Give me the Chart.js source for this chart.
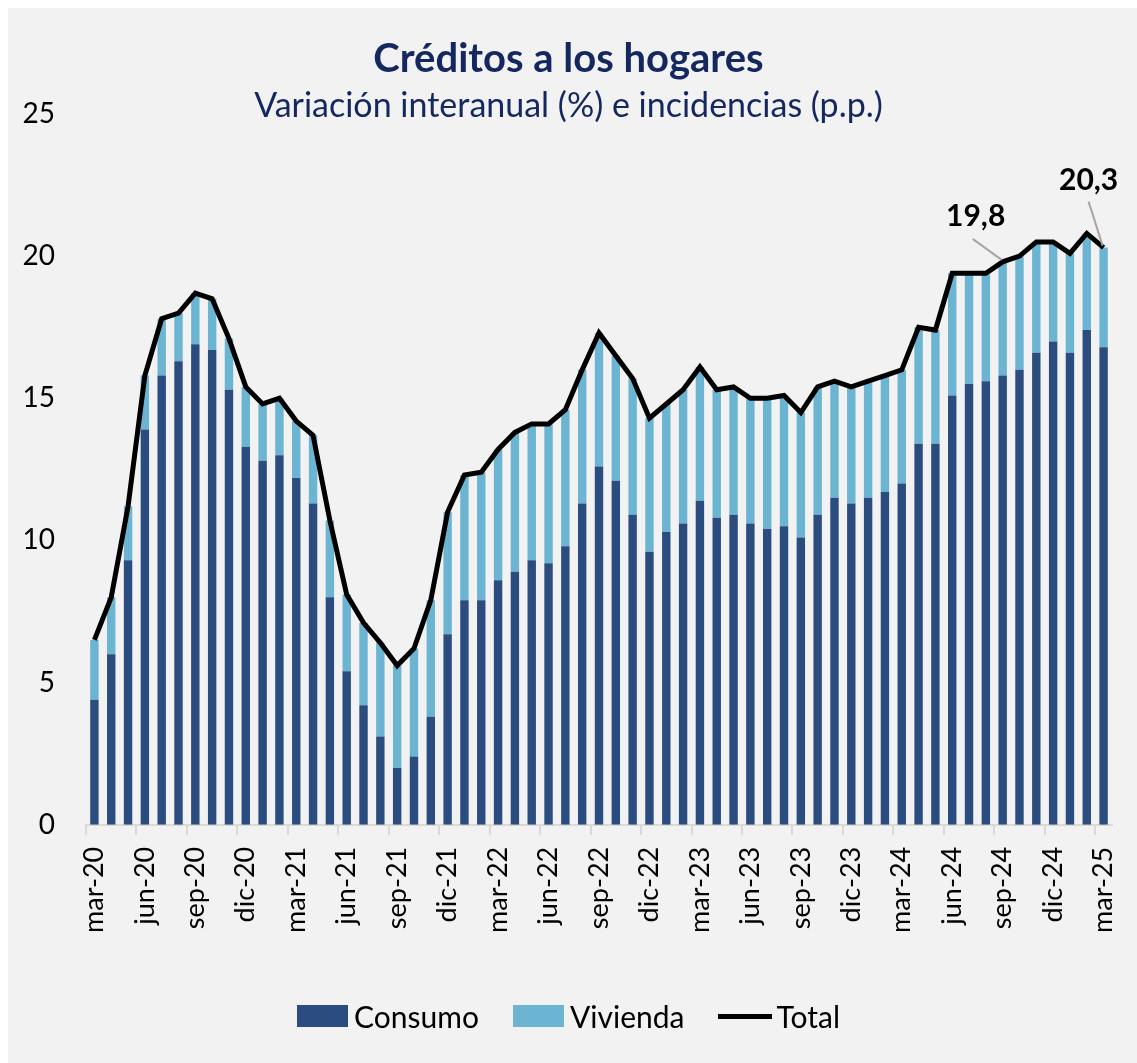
<!DOCTYPE html>
<html lang="es">

<head>
    <meta charset="UTF-8">
    <title>Créditos a los hogares</title>
    <style>
        body { margin: 0; background: #ffffff; }
        #wrap { position: absolute; left: 8px; top: 8px; width: 1129px; height: 1055px; background: #f2f2f2; }
        #box { position: absolute; left: -8px; top: -8px; width: 1137px; height: 1063px; }
        .ttl { position: absolute; left: 0; width: 1137px; text-align: center; color: #14275e; font-family: Lato, sans-serif; line-height: 1.2; }
        #t1 { top: 33px; font-size: 40px; font-weight: bold; }
        #t2 { top: 84px; font-size: 34px; }
        #legend { position: absolute; top: 998px; left: 0; width: 1137px; display: flex; justify-content: center; align-items: center;
                  font-family: Lato, sans-serif; font-size: 30px; color: #000; }
        .item { display: flex; align-items: center; margin: 0 17px; }
        .sw { width: 51px; height: 22px; margin-right: 6px; }
        .ln { width: 54px; height: 5px; background: #000; margin-right: 4px; }
    </style>
</head>

<body>
    <div id="wrap">
        <div id="box">
            <canvas id="myChart" width="1137" height="1063"></canvas>
            <div class="ttl" id="t1">Créditos a los hogares</div>
            <div class="ttl" id="t2">Variación interanual (%) e incidencias (p.p.)</div>
            <div id="legend">
                <div class="item"><div class="sw" style="background:#2b4c7e"></div>Consumo</div>
                <div class="item"><div class="sw" style="background:#6bb4d2"></div>Vivienda</div>
                <div class="item"><div class="ln"></div>Total</div>
            </div>
        </div>
    </div>
    <script src="https://cdn.jsdelivr.net/npm/chart.js"></script>
    <script>
        const labels = [
            'mar-20', 'abr-20', 'may-20', 'jun-20', 'jul-20', 'ago-20', 'sep-20', 'oct-20', 'nov-20', 'dic-20', 'ene-21', 'feb-21',
            'mar-21', 'abr-21', 'may-21', 'jun-21', 'jul-21', 'ago-21', 'sep-21', 'oct-21', 'nov-21', 'dic-21', 'ene-22', 'feb-22',
            'mar-22', 'abr-22', 'may-22', 'jun-22', 'jul-22', 'ago-22', 'sep-22', 'oct-22', 'nov-22', 'dic-22', 'ene-23', 'feb-23',
            'mar-23', 'abr-23', 'may-23', 'jun-23', 'jul-23', 'ago-23', 'sep-23', 'oct-23', 'nov-23', 'dic-23', 'ene-24', 'feb-24',
            'mar-24', 'abr-24', 'may-24', 'jun-24', 'jul-24', 'ago-24', 'sep-24', 'oct-24', 'nov-24', 'dic-24', 'ene-25', 'feb-25',
            'mar-25'
        ];

        const consumo = [
            4.4, 6.0, 9.3, 13.9, 15.8, 16.3, 16.9, 16.7, 15.3, 13.3, 12.8, 13.0,
            12.2, 11.3, 8.0, 5.4, 4.2, 3.1, 2.0, 2.4, 3.8, 6.7, 7.9, 7.9,
            8.6, 8.9, 9.3, 9.2, 9.8, 11.3, 12.6, 12.1, 10.9, 9.6, 10.3, 10.6,
            11.4, 10.8, 10.9, 10.6, 10.4, 10.5, 10.1, 10.9, 11.5, 11.3, 11.5, 11.7,
            12.0, 13.4, 13.4, 15.1, 15.5, 15.6, 15.8, 16.0, 16.6, 17.0, 16.6, 17.4,
            16.8
        ];

        const vivienda = [
            2.1, 2.0, 1.9, 1.9, 2.0, 1.7, 1.8, 1.8, 1.8, 2.1, 2.0, 2.0,
            2.0, 2.4, 2.7, 2.7, 2.9, 3.3, 3.6, 3.8, 4.1, 4.3, 4.4, 4.5,
            4.6, 4.9, 4.8, 4.9, 4.8, 4.7, 4.7, 4.4, 4.8, 4.7, 4.5, 4.7,
            4.7, 4.5, 4.5, 4.4, 4.6, 4.6, 4.4, 4.5, 4.1, 4.1, 4.1, 4.1,
            4.0, 4.1, 4.0, 4.3, 3.9, 3.8, 4.0, 4.0, 3.9, 3.5, 3.5, 3.4,
            3.5
        ];

        const total = [
            6.5, 8.0, 11.2, 15.8, 17.8, 18.0, 18.7, 18.5, 17.1, 15.4, 14.8, 15.0,
            14.2, 13.7, 10.7, 8.1, 7.1, 6.4, 5.6, 6.2, 7.9, 11.0, 12.3, 12.4,
            13.2, 13.8, 14.1, 14.1, 14.6, 16.0, 17.3, 16.5, 15.7, 14.3, 14.8, 15.3,
            16.1, 15.3, 15.4, 15.0, 15.0, 15.1, 14.5, 15.4, 15.6, 15.4, 15.6, 15.8,
            16.0, 17.5, 17.4, 19.4, 19.4, 19.4, 19.8, 20.0, 20.5, 20.5, 20.1, 20.8,
            20.3
        ];

        const yTicks = [0, 5, 10, 15, 20, 25];

        // etiquetas de dato: indice, texto
        const callouts = [
            { index: 54, text: '19,8', dx: -27, dy: -46, lx: -30, ly: -23 },
            { index: 60, text: '20,3', dx: -15, dy: -67, lx: -15, ly: -46 }
        ];

        const calloutPlugin = {
            id: 'callouts',
            afterDatasetsDraw(chart) {
                const c = chart.ctx;
                const meta = chart.getDatasetMeta(2);
                c.save();
                callouts.forEach(co => {
                    const p = meta.data[co.index];
                    c.strokeStyle = '#a6a6a6';
                    c.lineWidth = 2;
                    c.beginPath();
                    c.moveTo(p.x + co.lx, p.y + co.ly);
                    c.lineTo(p.x - 1, p.y - 2);
                    c.stroke();
                    c.fillStyle = '#000';
                    c.font = 'bold 30px Lato';
                    c.textAlign = 'center';
                    c.textBaseline = 'middle';
                    c.fillText(co.text, p.x + co.dx, p.y + co.dy);
                });
                c.restore();
            }
        };

        const ctx = document.getElementById('myChart');

        new Chart(ctx, {
            type: 'bar',
            data: {
                labels: labels,
                datasets: [{
                    label: 'Consumo',
                    data: consumo,
                    backgroundColor: '#2b4c7e',
                    stack: 'hogares',
                    order: 1,
                    barPercentage: 0.5,
                    categoryPercentage: 1.0
                }, {
                    label: 'Vivienda',
                    data: vivienda,
                    backgroundColor: '#6bb4d2',
                    stack: 'hogares',
                    order: 1,
                    barPercentage: 0.5,
                    categoryPercentage: 1.0
                }, {
                    type: 'line',
                    label: 'Total',
                    data: total,
                    borderColor: '#000000',
                    backgroundColor: '#000000',
                    borderWidth: 5,
                    pointRadius: 0,
                    tension: 0,
                    stack: 'total',
                    order: 0
                }]
            },
            options: {
                responsive: false,
                animation: false,
                layout: {
                    padding: { top: 114, left: 0, right: 25, bottom: 118 }
                },
                scales: {
                    x: {
                        stacked: true,
                        offset: true,
                        afterFit: (axis) => { axis.paddingLeft = 0; axis.paddingRight = 0; },
                        grid: {
                            offset: true,
                            drawOnChartArea: false,
                            tickLength: 10,
                            lineWidth: 2,
                            color: (c) => c.index % 3 === 0 ? '#d9d9d9' : 'rgba(0,0,0,0)'
                        },
                        border: { display: true, color: '#d9d9d9', width: 2 },
                        ticks: {
                            autoSkip: false,
                            minRotation: 90,
                            maxRotation: 90,
                            color: '#000',
                            padding: 12,
                            font: { family: 'Lato', size: 27 },
                            callback: (v, i) => i % 3 === 0 ? labels[i] : ''
                        }
                    },
                    y: {
                        stacked: true,
                        min: 0,
                        max: 25,
                        afterBuildTicks: (axis) => { axis.ticks = yTicks.map(v => ({ value: v })); },
                        afterFit: (axis) => { axis.width = 86; },
                        grid: { display: false, drawTicks: false },
                        border: { display: false },
                        ticks: {
                            color: '#000',
                            padding: 31,
                            font: { family: 'Lato', size: 28 }
                        }
                    }
                },
                plugins: {
                    legend: { display: false },
                    tooltip: { enabled: false }
                }
            },
            plugins: [calloutPlugin]
        });
    </script>
</body>

</html>
